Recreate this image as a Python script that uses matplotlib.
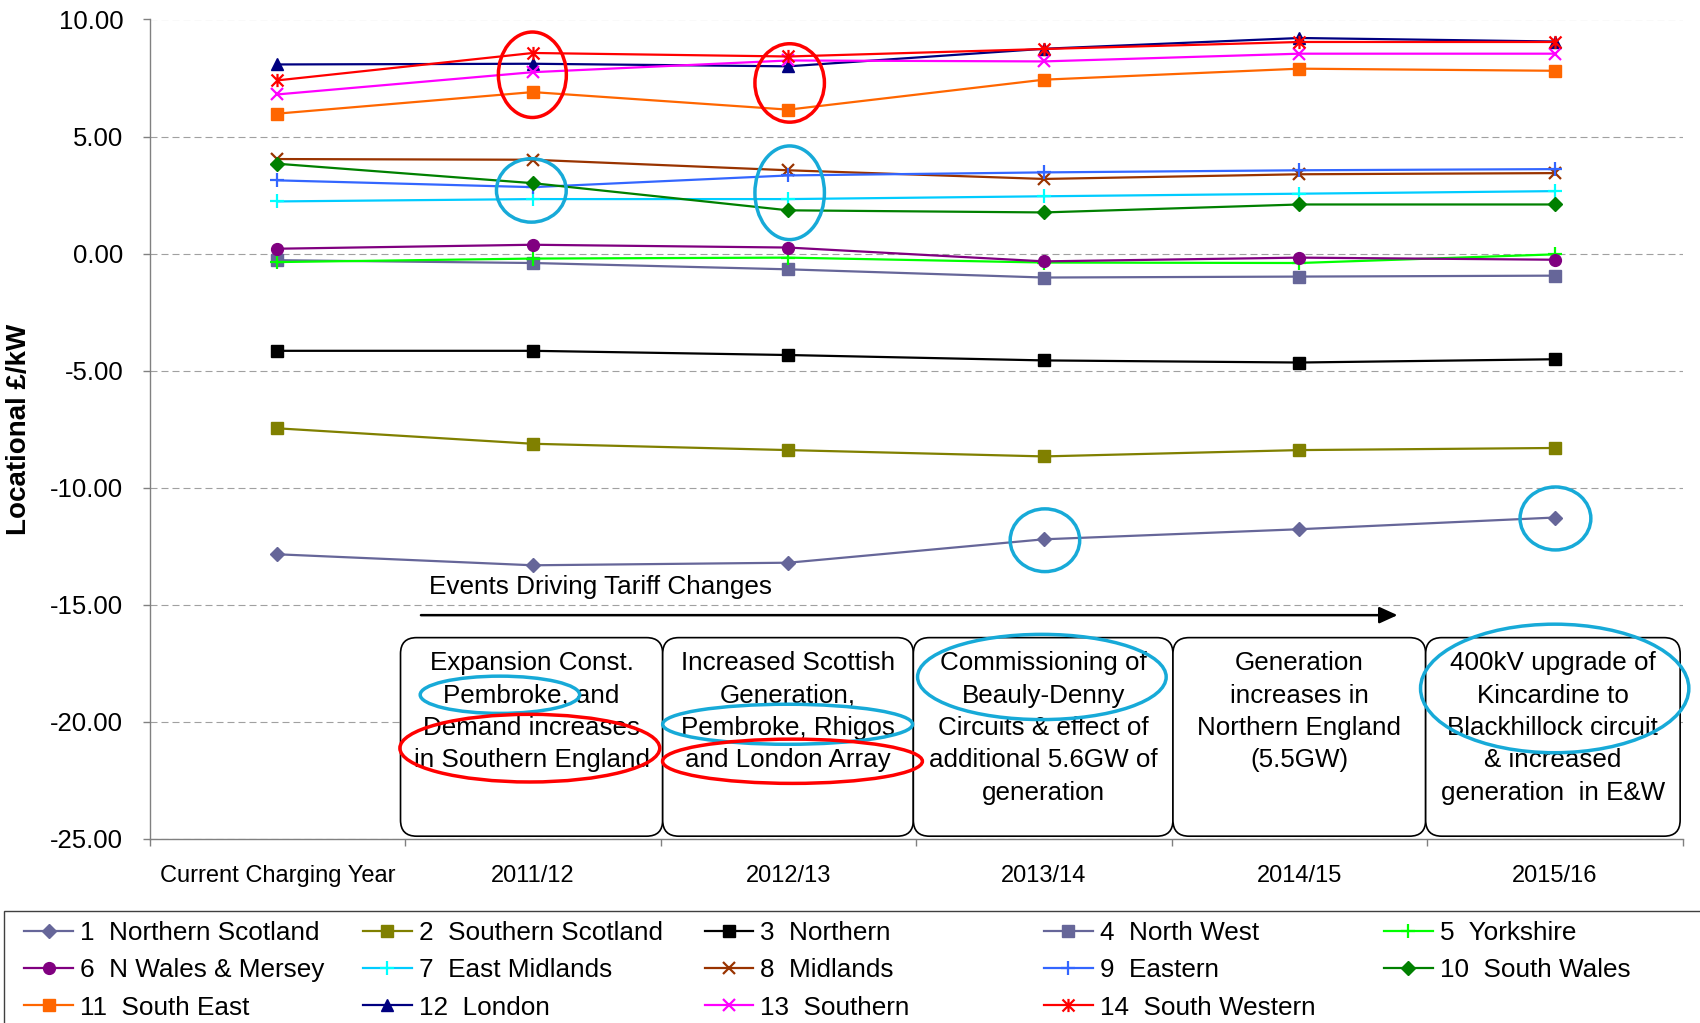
import numpy as np
import matplotlib
matplotlib.use('Agg')
import matplotlib.pyplot as plt
from matplotlib.patches import Ellipse, FancyBboxPatch, Rectangle
from matplotlib.path import Path
from matplotlib.ticker import FormatStrFormatter

plt.rcParams['font.family'] = ['Liberation Sans', 'DejaVu Sans']
plt.rcParams['axes.unicode_minus'] = False

# charging years on the x axis
years = ['Current Charging Year', '2011/12', '2012/13', '2013/14', '2014/15', '2015/16']

# locational tariff per zone, £/kW
northern_scotland = [-12.84, -13.31, -13.20, -12.20, -11.77, -11.27]
southern_scotland = [-7.46, -8.12, -8.39, -8.66, -8.39, -8.30]
northern = [-4.15, -4.15, -4.33, -4.56, -4.65, -4.51]
north_west = [-0.28, -0.40, -0.67, -1.02, -0.98, -0.94]
yorkshire = [-0.36, -0.21, -0.17, -0.38, -0.40, -0.03]
n_wales_mersey = [0.21, 0.38, 0.26, -0.33, -0.17, -0.26]
east_midlands = [2.23, 2.33, 2.33, 2.45, 2.56, 2.67]
midlands = [4.04, 4.01, 3.56, 3.19, 3.39, 3.44]
eastern = [3.13, 2.84, 3.34, 3.47, 3.56, 3.61]
south_wales = [3.84, 3.01, 1.85, 1.76, 2.10, 2.10]
south_east = [5.98, 6.90, 6.15, 7.43, 7.90, 7.81]
london = [8.08, 8.11, 8.00, 8.75, 9.21, 9.06]
southern = [6.80, 7.75, 8.25, 8.21, 8.54, 8.54]
south_western = [7.40, 8.57, 8.42, 8.74, 9.04, 9.04]

zone_labels = ['1  Northern Scotland', '2  Southern Scotland', '3  Northern', '4  North West',
               '5  Yorkshire', '6  N Wales & Mersey', '7  East Midlands', '8  Midlands',
               '9  Eastern', '10  South Wales', '11  South East', '12  London',
               '13  Southern', '14  South Western']

event_notes = ['Expansion Const.\nPembroke, and\nDemand increases\nin Southern England',
               'Increased Scottish\nGeneration,\nPembroke, Rhigos\nand London Array',
               'Commissioning of\nBeauly-Denny\nCircuits & effect of\nadditional 5.6GW of\ngeneration',
               'Generation\nincreases in\nNorthern England\n(5.5GW)',
               '400kV upgrade of\nKincardine to\nBlackhillock circuit\n& increased\ngeneration  in E&W']

zones = [northern_scotland, southern_scotland, northern, north_west, yorkshire,
         n_wales_mersey, east_midlands, midlands, eastern, south_wales,
         south_east, london, southern, south_western]

# asterisk marker: an x with a vertical bar through it
star = Path([(-0.5, -0.5), (0.5, 0.5), (-0.5, 0.5), (0.5, -0.5), (0, -0.55), (0, 0.55)],
            [Path.MOVETO, Path.LINETO] * 3)

# (line colour, marker, marker size, marker colour)
styles = [
    ('#666699', 'D', 6.8, '#666699'),
    ('#808000', 's', 8.0, '#808000'),
    ('#000000', 's', 8.0, '#000000'),
    ('#666699', 's', 8.0, '#666699'),
    ('#00FF00', '+', 9.5, '#00FF00'),
    ('#800080', 'o', 8.5, '#800080'),
    ('#00CCFF', '+', 9.5, '#00FFFF'),
    ('#993300', 'x', 8.5, '#993300'),
    ('#3366FF', '+', 9.5, '#3366FF'),
    ('#008000', 'D', 6.8, '#008000'),
    ('#FF6600', 's', 8.0, '#FF6600'),
    ('#000080', '^', 9.0, '#000080'),
    ('#FF00FF', 'x', 8.5, '#FF00FF'),
    ('#FF0000', star, 9.5, '#FF0000'),
]

W, H = 1700, 1023
fig = plt.figure(figsize=(W / 100, H / 100), dpi=100)
ax = fig.add_axes([149.6 / W, 1 - 839 / H, (1682.7 - 149.6) / W, (839 - 19.5) / H])

x = np.arange(len(years))
lines = []
for vals, (c, m, ms, mc) in zip(zones, styles):
    open_marker = m in ('+', 'x') or isinstance(m, Path)
    ln, = ax.plot(x, vals, color=c, lw=1.6, marker=m, markersize=ms,
                  markerfacecolor='none' if open_marker else mc,
                  markeredgecolor=mc, markeredgewidth=1.6 if open_marker else 1,
                  zorder=3)
    lines.append(ln)

ax.set_xlim(-0.5, 5.5)
ax.set_ylim(-25, 10)

ax.set_yticks(np.arange(-25, 10.1, 5))
ax.yaxis.set_major_formatter(FormatStrFormatter('%.2f'))
ax.tick_params(axis='y', direction='out', length=5, width=1, color='#808080',
               labelsize=18.5, pad=14)
ax.set_xticks(x)
ax.set_xticklabels(years)
ax.set_xticks(np.arange(-0.5, 5.6, 1), minor=True)
ax.tick_params(axis='x', which='major', length=0, labelsize=17, pad=18.6)
ax.tick_params(axis='x', which='minor', direction='out', length=5, width=1, color='#808080')

ax.set_axisbelow(True)
ax.yaxis.grid(True, color='#A0A0A0', lw=0.8, linestyle=(0, (6.3, 3.6)))
for side in ('top', 'right'):
    ax.spines[side].set_visible(False)
for side in ('left', 'bottom'):
    ax.spines[side].set_color('#808080')
    ax.spines[side].set_linewidth(1)

fig.text(19.5 / W, 1 - 429.3 / H, 'Locational £/kW', rotation=90, ha='center', va='center',
         fontsize=20, fontweight='bold')

# events timeline
ax.text(0.594, -14.24, 'Events Driving Tariff Changes', ha='left', va='center', fontsize=18.8)
ax.annotate('', xy=(4.384, -15.44), xytext=(0.562, -15.44),
            arrowprops=dict(arrowstyle='-|>,head_length=0.55,head_width=0.25',
                            color='black', lw=1.8, shrinkA=0, shrinkB=0, mutation_scale=20))

box_edges = [0.482, 1.508, 2.489, 3.505, 4.494, 5.49]
box_top, box_bottom = -16.40, -24.88
for i, note in enumerate(event_notes):
    x0, x1 = box_edges[i], box_edges[i + 1]
    ax.add_patch(FancyBboxPatch((x0, box_bottom), x1 - x0, box_top - box_bottom,
                                boxstyle='round,pad=0,rounding_size=0.063',
                                mutation_aspect=10.9, fc='white', ec='black', lw=1.2,
                                zorder=4, clip_on=False))
    ax.text((x0 + x1) / 2, -16.98, note, ha='center', va='top', fontsize=18.7,
            linespacing=1.44, zorder=5)

# highlight rings: (centre x, centre y, width, height, colour)
red, blue = '#FF0000', '#17AAD8'
rings = [
    (0.998, 7.64, 0.266, 3.65, red),
    (2.005, 7.29, 0.272, 3.35, red),
    (0.994, 2.70, 0.273, 2.71, blue),
    (2.005, 2.60, 0.272, 4.00, blue),
    (3.004, -12.24, 0.272, 2.68, blue),
    (5.002, -11.31, 0.277, 2.69, blue),
    (0.871, -18.84, 0.624, 1.59, blue),
    (0.988, -21.12, 1.017, 2.89, red),
    (1.997, -20.10, 0.978, 1.71, blue),
    (2.016, -21.68, 1.017, 1.89, red),
    (2.992, -18.08, 0.973, 3.64, blue),
    (4.999, -18.57, 1.050, 5.49, blue),
]
for cx, cy, w, h, c in rings:
    ax.add_patch(Ellipse((cx, cy), w, h, fill=False, ec=c, lw=2.5, zorder=6, clip_on=False))

# legend: five columns, read across the rows
fig.add_artist(Rectangle((4.3 / W, -0.1), 1.2, 0.1 + (H - 910.7) / H, transform=fig.transFigure,
                         fill=False, ec='#404040', lw=1))
col_x = [24.4, 363, 704.6, 1044, 1384]
for j, cx in enumerate(col_x):
    idx = [k for k in (j, j + 5, j + 10) if k < len(lines)]
    fig.legend([lines[k] for k in idx], [zone_labels[k] for k in idx], loc='upper left',
               bbox_to_anchor=(cx / W, 1 - 921 / H), bbox_transform=fig.transFigure,
               frameon=False, borderpad=0, borderaxespad=0, handlelength=1.87,
               handletextpad=0.27, labelspacing=0.51, fontsize=18.8)

fig.savefig('out.png', dpi=100)
